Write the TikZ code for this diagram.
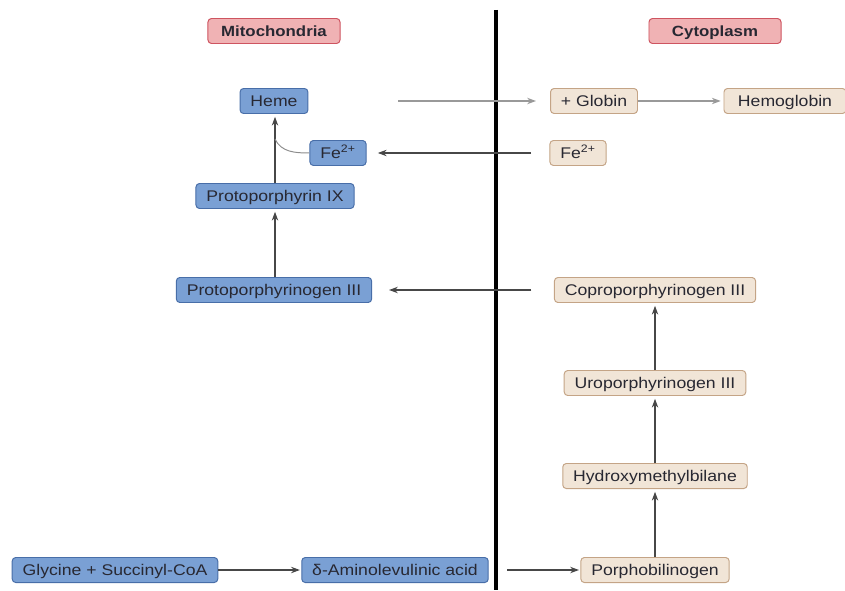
\documentclass[tikz,border=0pt]{standalone}
\usepackage{fontspec}
\setmainfont{Liberation Sans}[FakeStretch=1.14]
\usepackage{tikz}
\usetikzlibrary{arrows.meta}
\definecolor{MitoBlue}{RGB}{122,160,212}
\definecolor{MitoEdge}{RGB}{72,110,168}
\definecolor{CytoBeige}{RGB}{241,229,215}
\definecolor{CytoEdge}{RGB}{196,164,134}
\definecolor{HeadPink}{RGB}{240,178,180}
\definecolor{HeadEdge}{RGB}{206,84,96}
\definecolor{InkGray}{RGB}{40,40,50}

\begin{document}
\begin{tikzpicture}[
  x=0.025cm, y=-0.025cm,
  font=\fontsize{11}{13}\selectfont,
  mnd/.style = {rectangle, rounded corners=2.5pt, draw=MitoEdge, fill=MitoBlue,
                text=InkGray, minimum height=0.625cm, inner xsep=0.26cm,
                inner ysep=0pt, text height=7.8pt, text depth=0pt,
                line width=0.7pt},
  cnd/.style = {rectangle, rounded corners=2.5pt, draw=CytoEdge, fill=CytoBeige,
                text=InkGray, minimum height=0.625cm, inner xsep=0.26cm,
                inner ysep=0pt, text height=7.8pt, text depth=0pt,
                line width=0.7pt},
  hd/.style  = {rectangle, rounded corners=2.5pt, draw=HeadEdge, fill=HeadPink,
                text=InkGray, font=\fontsize{10.5}{12}\selectfont\bfseries,
                minimum width=3.3cm, minimum height=0.625cm, inner ysep=0pt,
                text height=7.5pt, text depth=0pt, line width=0.7pt},
  ar/.style  = {->, draw=black!72, line width=0.8pt},
  lar/.style = {->, draw=black!40, line width=0.8pt},
  >={Stealth[length=2.2mm, width=1.6mm]},
]
\useasboundingbox (0,0) rectangle (845,590);

% headers and divider
\node[hd] (mito) at (274,31) {Mitochondria};
\node[hd] (cyto) at (715,31) {Cytoplasm};
\coordinate (wtop) at (496,10);
\coordinate (wbot) at (496,590);
\draw[black, line width=2.8pt] (wtop) -- (wbot);

% mitochondria side
\node[mnd] (heme)  at (274,101) {Heme};
\node[mnd] (feM)   at (338,153) {Fe\textsuperscript{2+}};
\node[mnd] (pp9)   at (275,196) {Protoporphyrin IX};
\node[mnd] (ppg3)  at (274,290) {Protoporphyrinogen III};
\node[mnd] (gly)   at (115,570) {Glycine + Succinyl-CoA};
\node[mnd] (ala)   at (395,570) {δ-Aminolevulinic acid};

% cytoplasm side
\node[cnd] (glob)  at (594,101) {+ Globin};
\node[cnd, minimum width=3.05cm] (hb) at (785,101) {Hemoglobin};
\node[cnd] (feC)   at (578,153) {Fe\textsuperscript{2+}};
\node[cnd] (cpg3)  at (655,290) {Coproporphyrinogen III};
\node[cnd] (upg3)  at (655,383) {Uroporphyrinogen III};
\node[cnd] (hmb)   at (655,476) {Hydroxymethylbilane};
\node[cnd] (pbg)   at (655,570) {Porphobilinogen};

% pathway
\draw[ar, shorten >=1pt] (gly) -- (ala);
\draw[ar, shorten <=13pt, shorten >=1pt] (ala) -- (pbg);
\draw[ar, shorten >=2pt] (pbg) -- (hmb);
\draw[ar, shorten >=2pt] (hmb) -- (upg3);
\draw[ar, shorten >=2pt] (upg3) -- (cpg3);
\draw[ar, shorten <=16pt, shorten >=12pt] (cpg3) -- (ppg3);
\draw[ar, shorten >=2pt] (ppg3.north -| pp9) -- (pp9);
\draw[ar, shorten >=2pt] (pp9) -- (pp9 |- heme.south);
\draw[ar, shorten <=13pt, shorten >=8pt] (feC) -- (feM);

% iron joins heme
\coordinate (fej) at (275,139);
\draw[black!45, line width=0.7pt] (feM.west) to[out=180, in=-65] (fej);

% globin
\coordinate (hx) at (398,101);
\draw[lar, shorten >=10pt] (hx) -- (glob);
\draw[lar, shorten >=2pt] (glob) -- (hb);

\end{tikzpicture}
\end{document}
